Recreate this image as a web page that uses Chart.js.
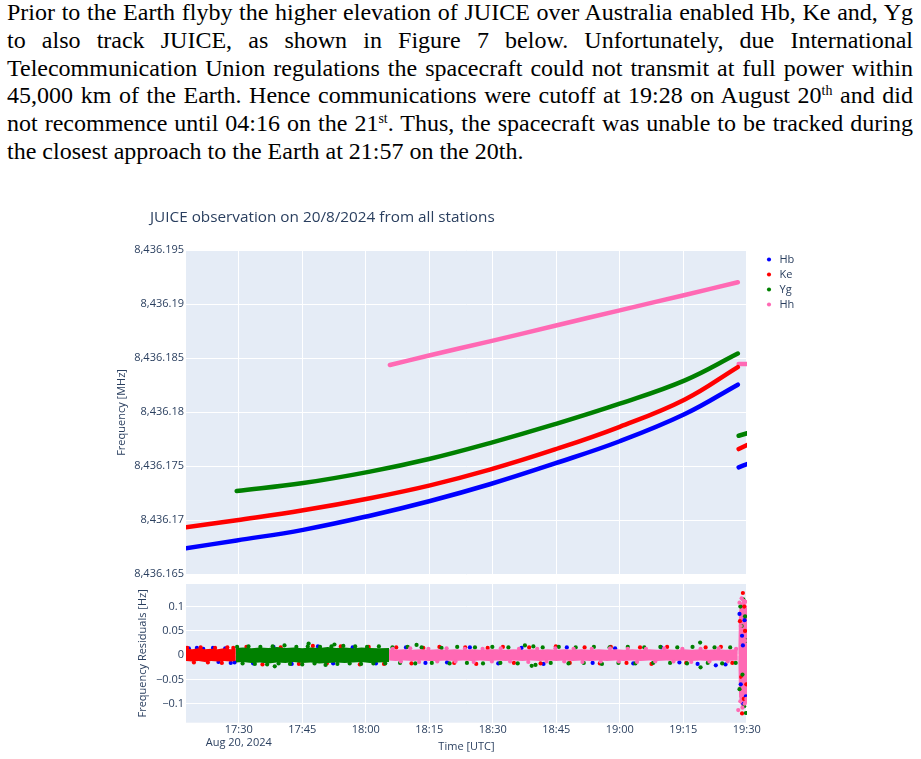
<!DOCTYPE html>
<html>
<head>
<meta charset="utf-8">
<script src="https://cdn.jsdelivr.net/npm/chart.js@4.4.1/dist/chart.umd.min.js"></script>
<style>
  html, body { margin: 0; padding: 0; background: #ffffff; width: 921px; height: 759px; overflow: hidden; }
  #para { position: absolute; left: 7px; top: -1px; width: 906px;
          font-family: "Liberation Serif", "Times New Roman", serif; font-size: 24px; line-height: 27.8px; color: #000; }
  #para .ln { text-align: justify; text-align-last: justify; white-space: nowrap; }
  #para .ln.last { text-align: left; text-align-last: left; }
  #para sup { font-size: 0.58em; line-height: 0; vertical-align: 0.6em; }
  #topWrap { position: absolute; left: 0; top: 200px; width: 921px; height: 390px; }
  #botWrap { position: absolute; left: 0; top: 570px; width: 921px; height: 189px; }
</style>
</head>
<body>
<div id="para">
  <div class="ln">Prior to the Earth flyby the higher elevation of JUICE over Australia enabled Hb, Ke and, Yg</div>
  <div class="ln">to also track JUICE, as shown in Figure 7 below. Unfortunately, due International</div>
  <div class="ln">Telecommunication Union regulations the spacecraft could not transmit at full power within</div>
  <div class="ln">45,000 km of the Earth. Hence communications were cutoff at 19:28 on August 20<sup>th</sup> and did</div>
  <div class="ln">not recommence until 04:16 on the 21<sup>st</sup>. Thus, the spacecraft was unable to be tracked during</div>
  <div class="ln last">the closest approach to the Earth at 21:57 on the 20th.</div>
</div>
<div id="topWrap"><canvas id="topChart" width="921" height="390"></canvas></div>
<div id="botWrap"><canvas id="botChart" width="921" height="189"></canvas></div>
<script>
// ---------------- data (time in minutes after 00:00 UTC, 20 Aug 2024) ----------------
const stations = ['Hb', 'Ke', 'Yg', 'Hh'];

const xTickVals   = [1050, 1065, 1080, 1095, 1110, 1125, 1140, 1155, 1170];
const xTickLabels = [['17:30', 'Aug 20, 2024'], '17:45', '18:00', '18:15', '18:30', '18:45', '19:00', '19:15', '19:30'];

const freqTickVals   = [8436.165, 8436.17, 8436.175, 8436.18, 8436.185, 8436.19, 8436.195];
const freqTickLabels = ['8,436.165', '8,436.17', '8,436.175', '8,436.18', '8,436.185', '8,436.19', '8,436.195'];

const resTickVals   = [-0.1, -0.05, 0, 0.05, 0.1];
const resTickLabels = ['\u22120.1', '\u22120.05', '0', '0.05', '0.1'];

// Frequency [MHz] before the cutoff
const hbTimes = [1037.53, 1049.5, 1065.2, 1081.0, 1095.2, 1109.3, 1124.7, 1140.0, 1155.4, 1167.9];
const hbFreq  = [8436.16741, 8436.16814, 8436.16912, 8436.17043, 8436.17179, 8436.17334, 8436.17527, 8436.17732, 8436.17984, 8436.18256];
const keTimes = [1037.53, 1049.5, 1065.2, 1081.0, 1095.2, 1109.3, 1124.7, 1140.0, 1155.4, 1167.9];
const keFreq  = [8436.16935, 8436.17001, 8436.17093, 8436.17205, 8436.17324, 8436.17469, 8436.17656, 8436.17866, 8436.18119, 8436.18419];
const ygTimes = [1049.5, 1065.2, 1081.0, 1095.2, 1109.3, 1124.7, 1140.0, 1155.4, 1167.9];
const ygFreq  = [8436.17271, 8436.17345, 8436.17451, 8436.17570, 8436.17715, 8436.17890, 8436.18080, 8436.18296, 8436.18544];
const hhTimes = [1085.7, 1095.2, 1109.3, 1124.7, 1140.0, 1155.4, 1167.9];
const hhFreq  = [8436.18438, 8436.18528, 8436.18657, 8436.18801, 8436.18944, 8436.19086, 8436.19204];

// Frequency [MHz] after the cutoff (short segments at the right edge)
const tailTimes = [1168.1, 1170.1];
const hbTail = [8436.17491, 8436.17521];
const keTail = [8436.17660, 8436.17697];
const ygTail = [8436.17783, 8436.17806];
const hhTail = [8436.18447, 8436.18447];

// Residual band of the densest (top-most) station: [time, upper, lower] in Hz
const keBand = [[1037.5,0.013,-0.012],[1039,0.012,-0.013],[1040.5,0.014,-0.012],[1042,0.012,-0.014],[1043.5,0.013,-0.012],
  [1045,0.012,-0.013],[1046.5,0.014,-0.012],[1048,0.012,-0.013],[1049.3,0.013,-0.012]];
const ygBand = [[1049.3,0.015,-0.015],[1051,0.016,-0.014],[1053,0.014,-0.016],[1055,0.016,-0.015],[1057,0.015,-0.017],
  [1059,0.017,-0.015],[1061,0.015,-0.016],[1063,0.016,-0.014],[1065,0.014,-0.016],[1067,0.016,-0.015],[1069,0.015,-0.017],
  [1071,0.017,-0.016],[1073,0.015,-0.015],[1075,0.016,-0.016],[1077,0.014,-0.015],[1079,0.016,-0.014],[1081,0.015,-0.016],
  [1083,0.014,-0.015],[1085.5,0.015,-0.014]];
const hhBand = [[1085.5,0.012,-0.011],[1087,0.011,-0.012],[1089,0.012,-0.011],[1091,0.011,-0.012],[1093,0.012,-0.011],
  [1095,0.011,-0.012],[1097,0.012,-0.012],[1099,0.011,-0.011],[1101,0.012,-0.012],[1103,0.011,-0.011],[1105,0.012,-0.012],
  [1107,0.011,-0.011],[1109,0.012,-0.012],[1111,0.012,-0.011],[1113,0.011,-0.012],[1115,0.012,-0.011],[1117,0.011,-0.012],
  [1119,0.012,-0.011],[1121,0.011,-0.012],[1123,0.012,-0.011],[1125,0.011,-0.012],[1127,0.012,-0.011],[1129,0.011,-0.012],
  [1131,0.012,-0.011],[1133,0.011,-0.012],[1135,0.012,-0.011],[1137,0.011,-0.012],[1139,0.012,-0.011],[1141,0.011,-0.012],
  [1143,0.012,-0.011],[1145,0.011,-0.012],[1147,0.012,-0.011],[1149,0.011,-0.012],[1151,0.012,-0.011],[1153,0.011,-0.012],
  [1155,0.012,-0.011],[1157,0.011,-0.012],[1159,0.012,-0.011],[1161,0.011,-0.012],[1163,0.012,-0.011],[1165,0.011,-0.012],
  [1167.9,0.012,-0.011]];
const hhSpike = [[1168.0,0.014,-0.013],[1168.2,0.09,-0.085],[1168.5,0.105,-0.1],[1168.9,0.11,-0.106],[1169.3,0.112,-0.11],
  [1169.7,0.108,-0.104],[1170.1,0.1,-0.098]];

// Individual residual points [time, Hz]
const hbRes = [[1038.2,0.014],[1040.1,0.015],[1041.6,0.013],[1043.9,0.015],[1045.2,-0.014],[1046.8,0.014],[1048.1,-0.016],[1049.0,-0.015],
  [1053.4,-0.017],[1058.2,0.017],[1062.5,-0.018],[1068.7,0.018],[1072.3,-0.017],[1076.9,0.016],[1082.4,-0.017],
  [1089.5,0.016],[1094.1,-0.016],[1099.2,-0.015],[1104.6,0.016],[1111.3,-0.017],[1116.8,0.015],[1122.0,-0.018],[1127.5,0.016],
  [1133.6,-0.016],[1138.9,0.014],[1143.2,-0.017],[1149.8,0.016],[1154.1,-0.015],[1158.4,-0.018],[1162.7,-0.021],[1165.0,-0.019],
  [1168.3,0.085],[1168.6,-0.06],[1168.9,0.04],[1169.2,-0.1],[1169.5,0.072],[1169.8,-0.085],[1169.1,0.02]];
const keRes = [[1037.8,0.015],[1039.4,-0.015],[1041.0,0.016],[1042.7,-0.015],[1044.4,0.015],[1046.0,-0.016],[1047.3,0.016],[1048.7,0.015],
  [1051.8,0.017],[1055.6,-0.019],[1059.9,0.016],[1064.2,-0.018],[1067.5,0.019],[1070.8,-0.017],[1074.1,0.018],[1078.6,-0.019],
  [1080.7,0.017],[1084.3,-0.018],
  [1087.2,0.016],[1090.8,-0.017],[1093.6,0.015],[1097.4,0.017],[1100.9,-0.016],[1103.5,0.016],[1106.1,-0.018],[1108.8,0.015],
  [1112.4,0.017],[1115.0,-0.016],[1118.6,0.016],[1121.3,-0.017],[1124.9,0.018],[1128.2,-0.016],[1131.7,0.016],[1135.3,-0.017],
  [1137.9,0.017],[1141.6,-0.016],[1144.8,0.016],[1147.5,-0.018],[1151.2,0.017],[1155.7,-0.016],[1160.3,0.016],[1163.9,0.017],
  [1166.6,-0.016],
  [1169.1,0.128],[1168.4,0.07],[1168.7,-0.045],[1169.3,-0.09],[1169.6,0.05],[1169.9,-0.06],[1168.9,-0.12],[1169.4,0.1]];
const ygRes = [[1049.6,0.017],[1050.9,-0.017],[1052.3,0.018],[1053.8,-0.018],[1055.1,0.017],[1056.7,-0.019],[1058.0,0.018],
  [1059.4,-0.017],[1060.8,0.02],[1062.1,-0.018],[1063.6,0.017],[1065.0,-0.019],[1066.3,0.018],[1067.9,-0.017],[1069.2,0.017],
  [1070.5,-0.02],[1071.9,0.018],[1073.3,-0.018],[1074.7,0.019],[1076.2,-0.017],[1077.5,0.018],[1078.9,-0.018],[1080.3,0.017],
  [1081.8,-0.017],[1083.1,0.018],[1084.6,-0.017],[1066.5,0.024],[1058.5,-0.023],[1072.6,0.022],
  [1086.3,0.016],[1088.1,-0.016],[1089.9,0.017],[1091.7,-0.017],[1092.0,0.021],[1093.2,0.016],[1095.6,-0.016],[1097.9,0.015],
  [1099.8,-0.017],[1101.6,0.017],[1103.9,-0.016],[1105.8,0.016],[1107.7,-0.017],[1109.9,0.017],[1111.8,-0.016],[1113.7,0.016],
  [1115.9,-0.017],[1117.6,0.02],[1119.2,-0.022],[1120.1,-0.02],[1119.6,0.018],[1121.8,0.016],[1123.7,-0.016],[1125.6,0.017],
  [1127.9,-0.017],[1129.6,0.016],[1131.5,-0.016],[1133.9,0.017],[1135.8,-0.018],[1137.6,0.016],[1139.7,-0.016],[1141.9,0.017],
  [1143.7,-0.017],[1145.8,0.016],[1147.9,-0.016],[1149.6,0.017],[1151.9,-0.016],[1153.6,0.016],[1155.9,-0.017],[1157.2,0.017],
  [1159.0,0.026],[1159.1,-0.025],[1160.8,-0.016],[1162.4,0.016],[1164.2,-0.017],[1166.1,0.016],[1167.4,-0.016],
  [1169.8,-0.119],[1169.4,-0.105],[1168.5,0.1],[1169.0,-0.04],[1168.8,0.06],[1169.6,0.08],[1168.3,-0.07],[1169.9,0.03],[1169.2,0.115]];
const hhRes = [[1086.4,0.013],[1088.3,-0.013],[1090.5,0.014],[1092.6,-0.014],[1094.8,0.013],[1096.9,-0.013],[1099.1,0.014],
  [1101.2,-0.013],[1103.4,0.013],[1105.5,-0.014],[1107.6,0.013],[1109.8,-0.013],[1111.9,0.014],[1114.1,-0.013],[1116.2,0.013],
  [1118.4,-0.014],[1120.5,0.013],[1122.7,-0.013],[1124.8,0.014],[1126.9,-0.013],[1129.1,0.013],[1131.2,-0.014],[1133.4,0.013],
  [1135.5,-0.013],[1137.7,0.014],[1139.8,-0.013],[1141.9,0.013],[1144.1,-0.014],[1146.2,0.013],[1148.4,-0.013],[1150.5,0.014],
  [1152.7,-0.013],[1154.8,0.013],[1156.9,-0.014],[1159.1,0.013],[1161.2,-0.013],[1163.4,0.014],[1165.5,-0.013],[1167.5,0.013],
  [1168.0,-0.113],[1168.3,0.108],[1168.5,-0.095],[1168.8,0.117],[1169.0,-0.108],[1169.3,0.112],[1169.5,-0.1],[1169.7,0.11],
  [1169.9,-0.09],[1168.6,0.06],[1169.2,-0.05],[1169.6,0.03]];

// ---------------- styling ----------------
const COLORS = { Hb: '#0000ff', Ke: '#ff0000', Yg: '#008000', Hh: '#ff69b4' };
const TEXT = '#2a3f5f';
const PLOT_BG = '#e5ecf6';
const X_MIN = 1037.53, X_MAX = 1170.07;
Chart.defaults.font.family = '"Open Sans", "DejaVu Sans", sans-serif';
Chart.defaults.font.size = 11;
Chart.defaults.color = TEXT;
Chart.defaults.animation = false;

const plotBg = {
  id: 'plotBg',
  beforeDraw(chart) {
    const { ctx, chartArea: a } = chart;
    ctx.save();
    ctx.fillStyle = PLOT_BG;
    ctx.fillRect(a.left, a.top, a.right - a.left, a.bottom - a.top);
    ctx.restore();
  }
};
// move the title so that it starts where the reference title starts
const titleShift = {
  id: 'titleShift',
  afterLayout(chart) { if (chart.titleBlock) { chart.titleBlock.left = 150; } }
};

function fixedTicks(vals) {
  return (scale) => { scale.ticks = vals.map(v => ({ value: v })); };
}
function curve(times, vals, tTimes, tVals) {
  const pts = times.map((t, i) => ({ x: t, y: vals[i] }));
  pts.push({ x: tTimes[0] - 0.1, y: null });
  tTimes.forEach((t, i) => pts.push({ x: t, y: tVals[i] }));
  return pts;
}
const pairs = arr => arr.map(([x, y]) => ({ x, y }));

// ---------------- top chart: frequency ----------------
const topSeries = { Hb: [hbTimes, hbFreq, hbTail], Ke: [keTimes, keFreq, keTail], Yg: [ygTimes, ygFreq, ygTail], Hh: [hhTimes, hhFreq, hhTail] };
new Chart(document.getElementById('topChart'), {
  type: 'line',
  data: {
    datasets: stations.map(s => ({
      label: s,
      data: curve(topSeries[s][0], topSeries[s][1], tailTimes, topSeries[s][2]),
      borderColor: COLORS[s],
      backgroundColor: COLORS[s],
      borderWidth: 4.5,
      borderCapStyle: 'round',
      pointRadius: 0,
      pointStyle: 'circle',
      tension: 0.4,
      spanGaps: false,
      fill: false
    }))
  },
  options: {
    responsive: false,
    layout: { padding: { left: 100, right: 121, top: 0, bottom: 15 } },
    plugins: {
      title: {
        display: true, align: 'start', text: 'JUICE observation on 20/8/2024 from all stations',
        color: TEXT, font: { size: 15.3, weight: 'normal' }, padding: { top: 8.1, bottom: 23.5 }
      },
      legend: {
        position: 'right', align: 'start', fullSize: false, maxWidth: 40,
        labels: {
          usePointStyle: true, boxWidth: 10, boxHeight: 2.9, padding: 4, color: TEXT, font: { size: 11 },
          generateLabels(chart) {
            return Chart.defaults.plugins.legend.labels.generateLabels(chart)
              .map(l => Object.assign(l, { lineWidth: 0, pointStyle: 'circle' }));
          }
        }
      },
      tooltip: { enabled: false }
    },
    scales: {
      x: {
        type: 'linear', min: X_MIN, max: X_MAX, position: 'bottom',
        grid: { color: '#ffffff', lineWidth: 1, drawTicks: false },
        border: { display: false },
        ticks: { display: false, autoSkip: false },
        afterBuildTicks: fixedTicks(xTickVals),
        afterFit: s => { s.height = 0; }
      },
      y: {
        type: 'linear', position: 'left', min: 8436.16494, max: 8436.19503,
        grid: { color: '#ffffff', lineWidth: 1, drawTicks: false },
        border: { display: false },
        ticks: { padding: 2, autoSkip: false, color: TEXT, font: { size: 11 }, callback: (v, i) => freqTickLabels[i] },
        afterBuildTicks: fixedTicks(freqTickVals),
        afterFit: s => { s.width = 86; },
        title: { display: true, text: 'Frequency [MHz]', color: TEXT, font: { size: 11 }, padding: { top: 15.1, bottom: 0 } }
      },
      yPad: {
        type: 'linear', position: 'right', display: true,
        grid: { display: false }, border: { display: false }, ticks: { display: false },
        afterFit: s => { s.width = 13; }
      }
    }
  },
  plugins: [plotBg, titleShift]
});

// ---------------- bottom chart: residuals ----------------
function bandSets(tri, color, order) {
  return [
    { type: 'line', data: tri.map(([t, h]) => ({ x: t, y: h })), borderWidth: 0, borderColor: 'rgba(0,0,0,0)',
      pointRadius: 0, fill: '+1', backgroundColor: color, tension: 0, order },
    { type: 'line', data: tri.map(([t, , l]) => ({ x: t, y: l })), borderWidth: 0, borderColor: 'rgba(0,0,0,0)',
      pointRadius: 0, fill: false, backgroundColor: color, tension: 0, order }
  ];
}
function dotSet(arr, color, order) {
  return { type: 'scatter', data: pairs(arr), showLine: false, pointRadius: 2.1, pointBorderWidth: 0,
           pointBackgroundColor: color, backgroundColor: color, order };
}
new Chart(document.getElementById('botChart'), {
  type: 'scatter',
  data: {
    datasets: [
      ...bandSets(hhSpike, COLORS.Hh, 21),
      dotSet(hbRes, COLORS.Hb, 20),
      ...bandSets(keBand, COLORS.Ke, 19),
      dotSet(keRes, COLORS.Ke, 18),
      ...bandSets(ygBand, COLORS.Yg, 17),
      dotSet(ygRes, COLORS.Yg, 16),
      ...bandSets(hhBand, COLORS.Hh, 15),
      dotSet(hhRes, COLORS.Hh, 14)
    ]
  },
  options: {
    responsive: false,
    layout: { padding: { left: 100, right: 174, top: 14, bottom: 0 } },
    plugins: { legend: { display: false }, title: { display: false }, tooltip: { enabled: false } },
    scales: {
      x: {
        type: 'linear', min: X_MIN, max: X_MAX, position: 'bottom',
        grid: { color: '#ffffff', lineWidth: 1, drawTicks: false },
        border: { display: false },
        ticks: { padding: 0.1, autoSkip: false, maxRotation: 0, color: TEXT, font: { size: 11 }, callback: (v, i) => xTickLabels[i] },
        afterBuildTicks: fixedTicks(xTickVals),
        afterFit: s => { s.height = 36.3; },
        title: { display: true, text: 'Time [UTC]', color: TEXT, font: { size: 11 }, padding: { top: 0, bottom: 5.9 } }
      },
      y: {
        type: 'linear', position: 'left', min: -0.139, max: 0.1465,
        grid: { color: '#ffffff', lineWidth: c => (c.tick && c.tick.value === 0 ? 2 : 1), drawTicks: false },
        border: { display: false },
        ticks: { padding: 2, autoSkip: false, color: TEXT, font: { size: 11 }, callback: (v, i) => resTickLabels[i] },
        afterBuildTicks: fixedTicks(resTickVals),
        afterFit: s => { s.width = 86; },
        title: { display: true, text: 'Frequency Residuals [Hz]', color: TEXT, font: { size: 11 }, padding: { top: 36.1, bottom: 0 } }
      }
    }
  },
  plugins: [plotBg]
});
</script>
</body>
</html>
